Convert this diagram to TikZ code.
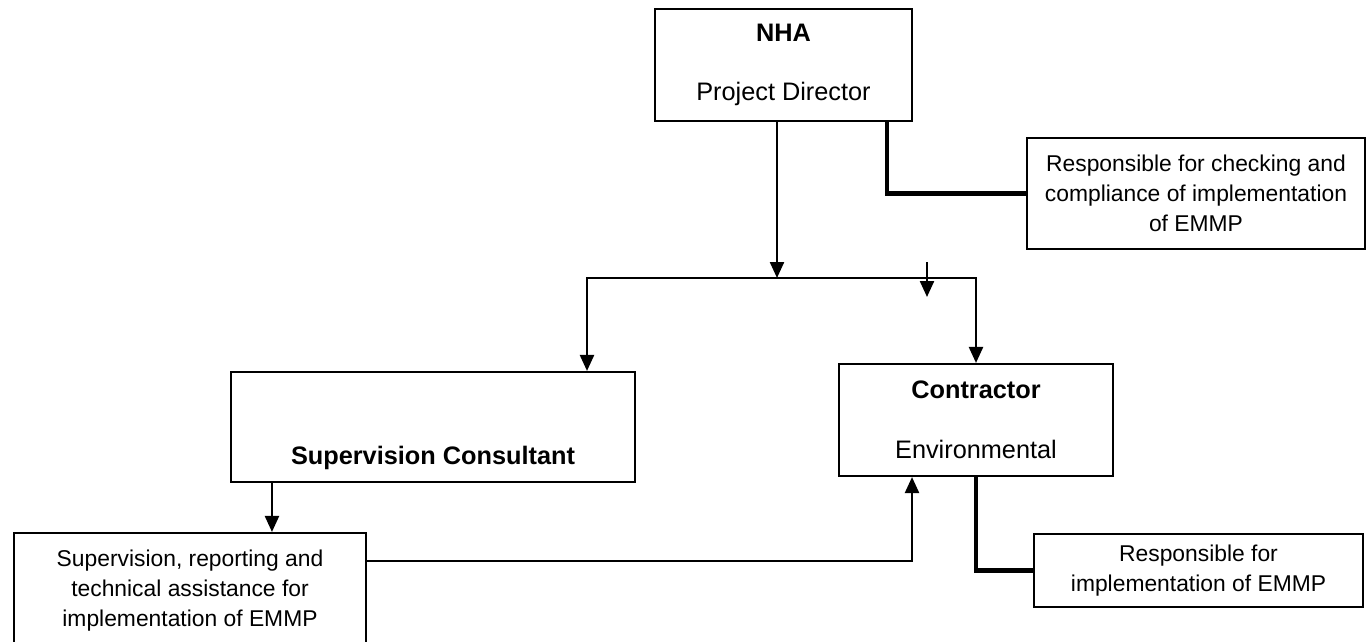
\documentclass[tikz,border=0pt]{standalone}
\usepackage{fontspec}
\setmainfont{Liberation Sans}
\usetikzlibrary{positioning, arrows.meta, calc}
\tikzset{
  >={Triangle[length=0.32cm, width=0.28cm]},
  box/.style={draw, line width=1.2pt, inner sep=0pt, align=center, font=\fontsize{14.4}{17}\selectfont},
  note/.style={box, font=\fontsize{13}{17}\selectfont},
  flow/.style={->, line width=1.3pt},
  link/.style={line width=2.6pt},
}

\begin{document}
\begin{tikzpicture}[x=0.02cm, y=-0.02cm]
  \useasboundingbox (0,0) rectangle (1367,642);
  \node[box, minimum width=5.14cm, minimum height=2.24cm] (nha) at (783.5,65) {\textbf{NHA}\\[17pt]Project Director};
  \node[note, minimum width=6.76cm, minimum height=2.22cm] (chk) at (1196,193.5) {Responsible for checking and\\ compliance of implementation\\ of EMMP};
  \node[box, minimum width=8.08cm, minimum height=2.2cm] (sc) at (433,427) {\strut\\[17pt]\textbf{Supervision Consultant}};
  \node[box, minimum width=5.48cm, minimum height=2.24cm] (con) at (976,420) {\textbf{Contractor}\\[17pt]Environmental};
  \node[note, minimum width=7.04cm, minimum height=2.3cm] (sup) at (190,590.5) {Supervision, reporting and\\ technical assistance for\\ implementation of EMMP};
  \node[note, minimum width=6.58cm, minimum height=1.46cm] (imp) at (1198.5,570.5) {Responsible for\\ implementation of EMMP};
  \coordinate (split) at (777,278);
  \coordinate (barL) at (587,278);
  \coordinate (tickA) at (927,262);
  \coordinate (tickB) at (927,297);
  \draw[flow] (nha.south -| split) -- (split);
  \draw[flow, <->] (barL |- sc.north) -- (barL) -- (con.north |- barL) -- (con.north);
  \draw[flow] (tickA) -- (tickB);
  \draw[link] ([xshift=-0.52cm]nha.south east) |- (chk.west);
  \coordinate (scout) at ([xshift=0.84cm]sc.south west);
  \draw[flow] (scout) -- (scout |- sup.north);
  \coordinate (supout) at ([yshift=-0.58cm]sup.north east);
  \coordinate (conin) at ([xshift=-1.28cm]con.south);
  \draw[flow] (supout) -| (conin);
  \draw[link] (con.south) |- (imp.west);
\end{tikzpicture}
\end{document}
